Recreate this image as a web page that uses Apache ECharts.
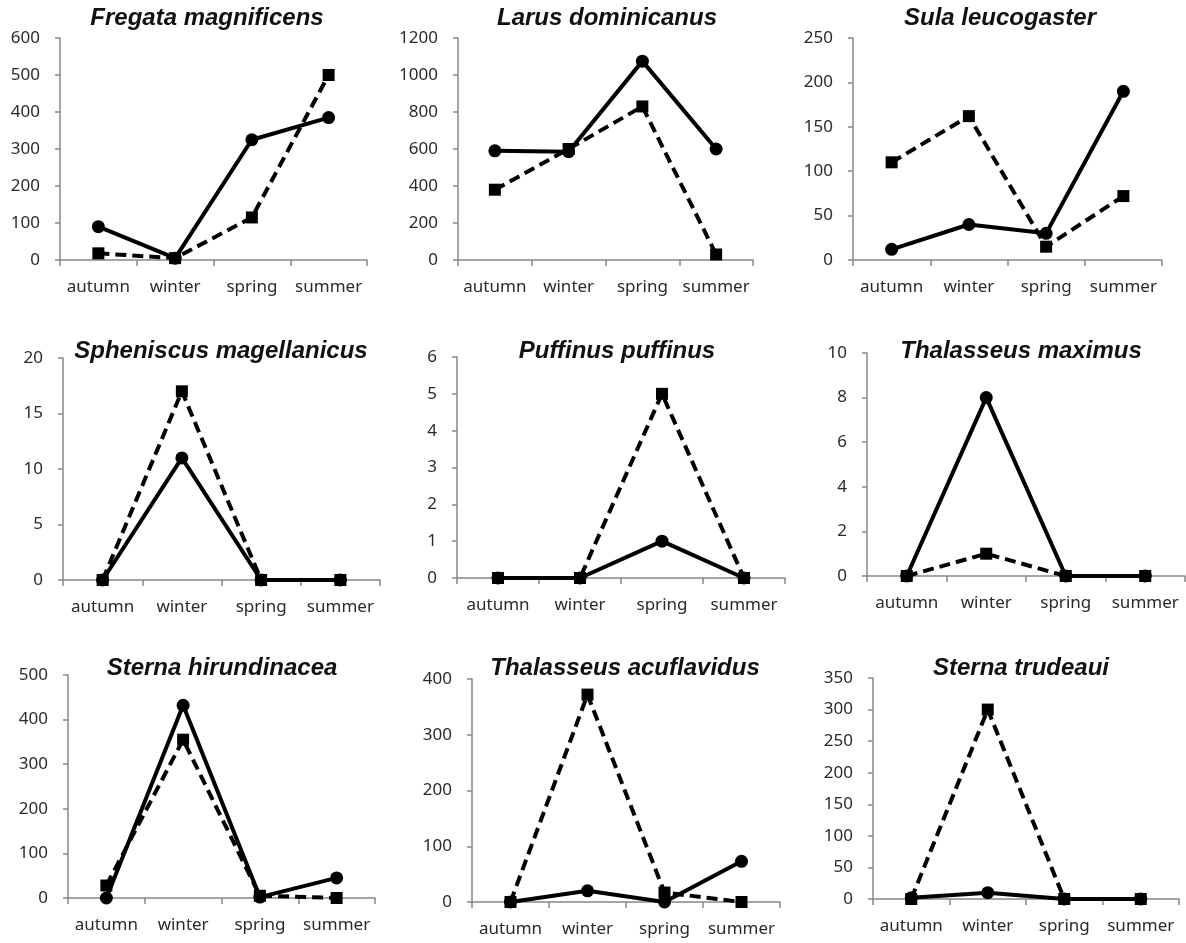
<!DOCTYPE html>
<html><head><meta charset="utf-8">
<script src="https://cdn.jsdelivr.net/npm/echarts@6/dist/echarts.min.js"></script>
<style>html,body{margin:0;padding:0;background:#fff}#c{width:1186px;height:943px}</style>
</head><body><div id="c"></div>
<script>
const seasons = ['autumn', 'winter', 'spring', 'summer'];
const speciesNames = ['Fregata magnificens', 'Larus dominicanus', 'Sula leucogaster',
  'Spheniscus magellanicus', 'Puffinus puffinus', 'Thalasseus maximus',
  'Sterna hirundinacea', 'Thalasseus acuflavidus', 'Sterna trudeaui'];
const fregataSolid = [90, 5, 325, 385];
const fregataDashed = [18, 5, 115, 500];
const larusSolid = [590, 585, 1075, 600];
const larusDashed = [380, 600, 830, 30];
const sulaSolid = [12, 40, 30, 190];
const sulaDashed = [110, 162, 15, 72];
const spheniscusSolid = [0, 11, 0, 0];
const spheniscusDashed = [0, 17, 0, 0];
const puffinusSolid = [0, 0, 1, 0];
const puffinusDashed = [0, 0, 5, 0];
const maximusSolid = [0, 8, 0, 0];
const maximusDashed = [0, 1, 0, 0];
const hirundinaceaSolid = [0, 432, 2, 45];
const hirundinaceaDashed = [28, 355, 5, 0];
const acuflavidusSolid = [0, 20, 0, 73];
const acuflavidusDashed = [0, 372, 17, 0];
const trudeauiSolid = [2, 10, 0, 0];
const trudeauiDashed = [0, 300, 0, 0];
const yMax = [600, 1200, 250, 20, 6, 10, 500, 400, 350];
const yStep = [100, 200, 50, 5, 1, 2, 100, 100, 50];

const solidSets = [fregataSolid, larusSolid, sulaSolid, spheniscusSolid, puffinusSolid, maximusSolid, hirundinaceaSolid, acuflavidusSolid, trudeauiSolid];
const dashedSets = [fregataDashed, larusDashed, sulaDashed, spheniscusDashed, puffinusDashed, maximusDashed, hirundinaceaDashed, acuflavidusDashed, trudeauiDashed];

// layout (pixels)
const grids = [
  {left: 60, top: 38, width: 307, height: 222},
  {left: 458, top: 38, width: 295, height: 222},
  {left: 853, top: 38, width: 309, height: 222},
  {left: 63, top: 358, width: 317, height: 222},
  {left: 457, top: 357, width: 328, height: 221},
  {left: 867, top: 353, width: 318, height: 223},
  {left: 68, top: 675, width: 307, height: 223},
  {left: 472, top: 679, width: 308, height: 223},
  {left: 873, top: 678, width: 306, height: 221}
];
const titlePos = [[207, 6], [607, 6], [1000, 6], [221, 339], [617, 339], [1021, 339], [222, 656], [625, 656], [1021, 656]];

const font = 'Noto Sans';
const option = {
  animation: false,
  backgroundColor: '#fff',
  title: speciesNames.map((n, i) => ({
    text: n, left: titlePos[i][0], top: titlePos[i][1], textAlign: 'center', padding: 0,
    textStyle: {fontFamily: 'Liberation Sans', fontStyle: 'italic', fontWeight: 'bold', fontSize: 24, color: '#111'}
  })),
  grid: grids,
  xAxis: grids.map((g, i) => ({
    type: 'category', gridIndex: i, data: seasons, boundaryGap: true,
    axisLine: {lineStyle: {color: '#888', width: 1.5}},
    axisTick: {show: true, length: 6, lineStyle: {color: '#888', width: 1.5}},
    axisLabel: {fontFamily: font, fontSize: 17, color: '#2a2a2a', margin: 19, interval: 0}
  })),
  yAxis: grids.map((g, i) => ({
    type: 'value', gridIndex: i, min: 0, max: yMax[i], interval: yStep[i],
    splitLine: {show: false},
    axisLine: {show: true, lineStyle: {color: '#888', width: 1.5}},
    axisTick: {show: true, length: 5, lineStyle: {color: '#888', width: 1.5}},
    axisLabel: {fontFamily: font, fontSize: 17, color: '#2a2a2a', margin: 20, formatter: v => String(v)}
  })),
  series: []
};
for (let i = 0; i < 9; i++) {
  option.series.push({
    type: 'line', xAxisIndex: i, yAxisIndex: i, data: dashedSets[i],
    symbol: 'rect', symbolSize: 12,
    lineStyle: {color: '#000', width: 4, type: [11, 6]},
    itemStyle: {color: '#000'}
  });
  option.series.push({
    type: 'line', xAxisIndex: i, yAxisIndex: i, data: solidSets[i],
    symbol: 'circle', symbolSize: 13,
    lineStyle: {color: '#000', width: 4},
    itemStyle: {color: '#000'}
  });
}
const chart = echarts.init(document.getElementById('c'), null, {renderer: 'canvas'});
chart.setOption(option);
</script></body></html>
